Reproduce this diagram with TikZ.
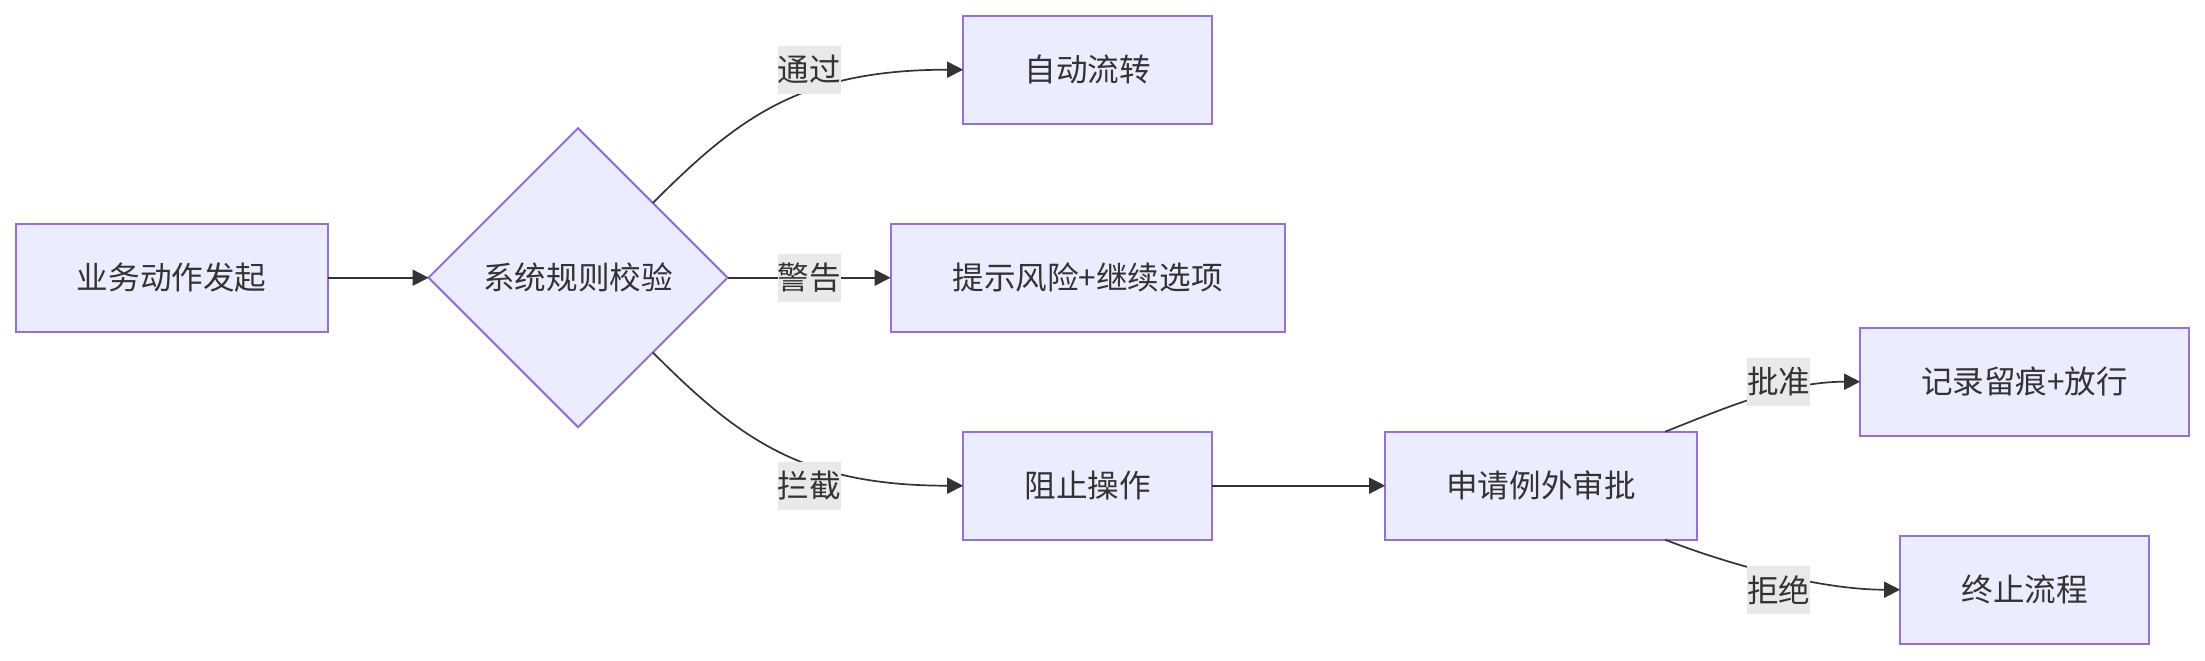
\documentclass[tikz,border=0pt]{standalone}
\usepackage{fontspec}
\setmainfont{Noto Sans CJK SC}
\usepackage{tikz}
\usetikzlibrary{positioning,arrows.meta,shapes.geometric,calc}
\definecolor{nodefill}{HTML}{ECECFF}
\definecolor{nodeline}{HTML}{9370DB}
\definecolor{ink}{HTML}{333333}
\definecolor{labelbg}{HTML}{E9E9E9}
\tikzset{
  box/.style={draw=nodeline, fill=nodefill, line width=1pt, text=ink, align=center, font=\fontsize{15.8}{19}\selectfont,
    inner sep=0pt, outer sep=0pt, minimum height=54pt},
  dia/.style={box, diamond, aspect=1, minimum width=149.5pt, minimum height=149.5pt},
  lab/.style={fill=labelbg, text=ink, font=\fontsize{15.8}{19}\selectfont, inner sep=0pt, minimum height=24pt},
  flow/.style={-{Triangle[length=8pt,width=8pt]}, draw=ink, line width=0.85pt},
}
\begin{document}
\begin{tikzpicture}
    \useasboundingbox (0,0) rectangle (1102.5pt,-330pt);
    \node[box, minimum width=156pt] (start) at (85.8pt,-138.85pt) {业务动作发起};
    \node[dia, right=50.5pt of start] (chk) {系统规则校验};
    \node[box, minimum width=197pt, right=81.5pt of chk] (warn) {提示风险+继续选项};
    \node[box, minimum width=124.5pt, above=50pt of warn] (pass) {自动流转};
    \node[box, minimum width=124.5pt, below=50pt of warn] (block) {阻止操作};
    \node[box, minimum width=156pt, right=86.5pt of block] (req) {申请例外审批};
    \node[box, minimum width=164.5pt, right=81.5pt of req, yshift=52pt] (log) {记录留痕+放行};
    \node[box, minimum width=124.5pt, below=50pt of log] (stop) {终止流程};
    \draw[flow] (start)--(chk); \draw[flow] (chk)--(warn); \draw[flow] (block)--(req);
    \draw[flow] (chk.north east) .. controls +(43pt,43pt) and +(-81pt,0pt) .. (pass.west);
    \draw[flow] (chk.south east) .. controls +(43pt,-43pt) and +(-81pt,0pt) .. (block.west);
    \draw[flow] ([xshift=-16pt]req.north east) .. controls +(28pt,11pt) and +(-38pt,0pt) .. (log.west);
    \draw[flow] ([xshift=-16pt]req.south east) .. controls +(28pt,-11pt) and +(-42pt,0pt) .. (stop.west);
    \coordinate (m1) at ($(chk.east)!0.5!(warn.west)$);
    \coordinate (m2) at ($(req.east)!0.5!(log.west)$);
    \node[lab] (lpass) at (m1 |- pass) {通过};
    \node[lab] (lwarn) at (m1) {警告};
    \node[lab] (lblock) at (m1 |- block) {拦截};
    \node[lab] (lok) at (m2 |- log) {批准};
    \node[lab] (lno) at (m2 |- stop) {拒绝};
\end{tikzpicture}
\end{document}
